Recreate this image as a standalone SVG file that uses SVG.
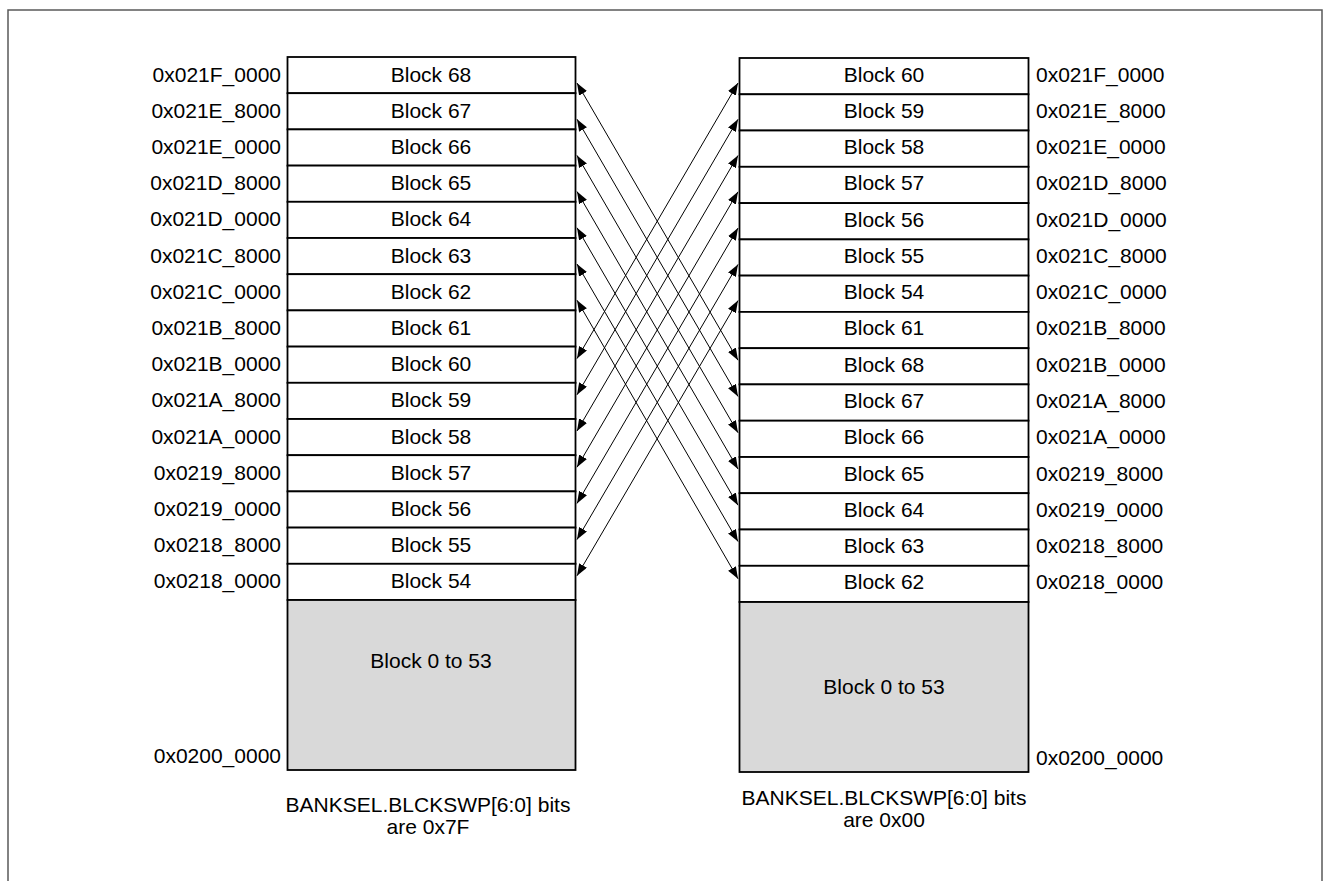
<svg xmlns="http://www.w3.org/2000/svg" width="1330" height="881" viewBox="0 0 1330 881">
<style>
  .row { fill: #ffffff; stroke: #000000; stroke-width: 1.8; }
  .gray { fill: #d9d9d9; stroke: #000000; stroke-width: 1.8; }
  .t { font-family: "Liberation Sans", Arial, sans-serif; font-size: 21px; fill: #000000; }
  .c { text-anchor: middle; }
  .e { text-anchor: end; }
  .s { text-anchor: start; }
  .conn { stroke: #000000; stroke-width: 1; fill: none; marker-start: url(#ah); marker-end: url(#ah); }
  .frame { stroke: #595959; stroke-width: 1.5; fill: none; }
</style>
<defs>
  <marker id="ah" markerUnits="userSpaceOnUse" markerWidth="13" markerHeight="10" refX="12" refY="4.5" orient="auto-start-reverse">
    <path d="M0,0 L12,4.5 L0,9 z" fill="#000000"/>
  </marker>
</defs>
<path class="frame" d="M8,881 V10 H1322 V881"/>

<g id="left-column">
  <g id="L68"><rect class="row" x="287.5" y="57" width="288" height="36.2"/><text class="t c" x="431" y="81.5">Block 68</text><text class="t e" x="281" y="81.5">0x021F_0000</text></g>
  <g id="L67"><rect class="row" x="287.5" y="93.2" width="288" height="36.2"/><text class="t c" x="431" y="117.7">Block 67</text><text class="t e" x="281" y="117.7">0x021E_8000</text></g>
  <g id="L66"><rect class="row" x="287.5" y="129.4" width="288" height="36.2"/><text class="t c" x="431" y="153.9">Block 66</text><text class="t e" x="281" y="153.9">0x021E_0000</text></g>
  <g id="L65"><rect class="row" x="287.5" y="165.6" width="288" height="36.2"/><text class="t c" x="431" y="190.1">Block 65</text><text class="t e" x="281" y="190.1">0x021D_8000</text></g>
  <g id="L64"><rect class="row" x="287.5" y="201.8" width="288" height="36.2"/><text class="t c" x="431" y="226.3">Block 64</text><text class="t e" x="281" y="226.3">0x021D_0000</text></g>
  <g id="L63"><rect class="row" x="287.5" y="238" width="288" height="36.2"/><text class="t c" x="431" y="262.5">Block 63</text><text class="t e" x="281" y="262.5">0x021C_8000</text></g>
  <g id="L62"><rect class="row" x="287.5" y="274.2" width="288" height="36.2"/><text class="t c" x="431" y="298.7">Block 62</text><text class="t e" x="281" y="298.7">0x021C_0000</text></g>
  <g id="L61"><rect class="row" x="287.5" y="310.4" width="288" height="36.2"/><text class="t c" x="431" y="334.9">Block 61</text><text class="t e" x="281" y="334.9">0x021B_8000</text></g>
  <g id="L60"><rect class="row" x="287.5" y="346.6" width="288" height="36.2"/><text class="t c" x="431" y="371.1">Block 60</text><text class="t e" x="281" y="371.1">0x021B_0000</text></g>
  <g id="L59"><rect class="row" x="287.5" y="382.8" width="288" height="36.2"/><text class="t c" x="431" y="407.3">Block 59</text><text class="t e" x="281" y="407.3">0x021A_8000</text></g>
  <g id="L58"><rect class="row" x="287.5" y="419" width="288" height="36.2"/><text class="t c" x="431" y="443.5">Block 58</text><text class="t e" x="281" y="443.5">0x021A_0000</text></g>
  <g id="L57"><rect class="row" x="287.5" y="455.2" width="288" height="36.2"/><text class="t c" x="431" y="479.7">Block 57</text><text class="t e" x="281" y="479.7">0x0219_8000</text></g>
  <g id="L56"><rect class="row" x="287.5" y="491.4" width="288" height="36.2"/><text class="t c" x="431" y="515.9">Block 56</text><text class="t e" x="281" y="515.9">0x0219_0000</text></g>
  <g id="L55"><rect class="row" x="287.5" y="527.6" width="288" height="36.2"/><text class="t c" x="431" y="552.1">Block 55</text><text class="t e" x="281" y="552.1">0x0218_8000</text></g>
  <g id="L54"><rect class="row" x="287.5" y="563.8" width="288" height="36.2"/><text class="t c" x="431" y="588.3">Block 54</text><text class="t e" x="281" y="588.3">0x0218_0000</text></g>
  <g id="L0-53"><rect class="gray" x="287.5" y="600" width="288" height="170"/><text class="t c" x="431" y="667.5">Block 0 to 53</text><text class="t e" x="281" y="763">0x0200_0000</text></g>
  <g id="L-caption"><text class="t c" x="428" y="812">BANKSEL.BLCKSWP[6:0] bits</text><text class="t c" x="428" y="833.5">are 0x7F</text></g>
</g>

<g id="right-column">
  <g id="R60"><rect class="row" x="739.5" y="58" width="289" height="36.3"/><text class="t c" x="884" y="81.5">Block 60</text><text class="t s" x="1036" y="81.5">0x021F_0000</text></g>
  <g id="R59"><rect class="row" x="739.5" y="94.3" width="289" height="36.2"/><text class="t c" x="884" y="117.8">Block 59</text><text class="t s" x="1036" y="117.8">0x021E_8000</text></g>
  <g id="R58"><rect class="row" x="739.5" y="130.5" width="289" height="36.3"/><text class="t c" x="884" y="154">Block 58</text><text class="t s" x="1036" y="154">0x021E_0000</text></g>
  <g id="R57"><rect class="row" x="739.5" y="166.8" width="289" height="36.3"/><text class="t c" x="884" y="190.3">Block 57</text><text class="t s" x="1036" y="190.3">0x021D_8000</text></g>
  <g id="R56"><rect class="row" x="739.5" y="203.1" width="289" height="36.3"/><text class="t c" x="884" y="226.6">Block 56</text><text class="t s" x="1036" y="226.6">0x021D_0000</text></g>
  <g id="R55"><rect class="row" x="739.5" y="239.4" width="289" height="36.2"/><text class="t c" x="884" y="262.9">Block 55</text><text class="t s" x="1036" y="262.9">0x021C_8000</text></g>
  <g id="R54"><rect class="row" x="739.5" y="275.6" width="289" height="36.3"/><text class="t c" x="884" y="299.1">Block 54</text><text class="t s" x="1036" y="299.1">0x021C_0000</text></g>
  <g id="R61"><rect class="row" x="739.5" y="311.9" width="289" height="36.3"/><text class="t c" x="884" y="335.4">Block 61</text><text class="t s" x="1036" y="335.4">0x021B_8000</text></g>
  <g id="R68"><rect class="row" x="739.5" y="348.2" width="289" height="36.2"/><text class="t c" x="884" y="371.7">Block 68</text><text class="t s" x="1036" y="371.7">0x021B_0000</text></g>
  <g id="R67"><rect class="row" x="739.5" y="384.4" width="289" height="36.3"/><text class="t c" x="884" y="407.9">Block 67</text><text class="t s" x="1036" y="407.9">0x021A_8000</text></g>
  <g id="R66"><rect class="row" x="739.5" y="420.7" width="289" height="36.3"/><text class="t c" x="884" y="444.2">Block 66</text><text class="t s" x="1036" y="444.2">0x021A_0000</text></g>
  <g id="R65"><rect class="row" x="739.5" y="457" width="289" height="36.2"/><text class="t c" x="884" y="480.5">Block 65</text><text class="t s" x="1036" y="480.5">0x0219_8000</text></g>
  <g id="R64"><rect class="row" x="739.5" y="493.2" width="289" height="36.3"/><text class="t c" x="884" y="516.7">Block 64</text><text class="t s" x="1036" y="516.7">0x0219_0000</text></g>
  <g id="R63"><rect class="row" x="739.5" y="529.5" width="289" height="36.3"/><text class="t c" x="884" y="553">Block 63</text><text class="t s" x="1036" y="553">0x0218_8000</text></g>
  <g id="R62"><rect class="row" x="739.5" y="565.8" width="289" height="36.2"/><text class="t c" x="884" y="589.3">Block 62</text><text class="t s" x="1036" y="589.3">0x0218_0000</text></g>
  <g id="R0-53"><rect class="gray" x="739.5" y="602" width="289" height="170"/><text class="t c" x="884" y="693.5">Block 0 to 53</text><text class="t s" x="1036" y="765">0x0200_0000</text></g>
  <g id="R-caption"><text class="t c" x="884" y="805">BANKSEL.BLCKSWP[6:0] bits</text><text class="t c" x="884" y="826.5">are 0x00</text></g>
</g>

<g id="connectors">
  <line class="conn" x1="577" y1="83" x2="738" y2="360.2"/>
  <line class="conn" x1="577" y1="119.2" x2="738" y2="396.4"/>
  <line class="conn" x1="577" y1="155.4" x2="738" y2="432.7"/>
  <line class="conn" x1="577" y1="191.6" x2="738" y2="469"/>
  <line class="conn" x1="577" y1="227.8" x2="738" y2="505.2"/>
  <line class="conn" x1="577" y1="264" x2="738" y2="541.5"/>
  <line class="conn" x1="577" y1="300.2" x2="738" y2="578.8"/>
  <line class="conn" x1="577" y1="358.6" x2="738" y2="83"/>
  <line class="conn" x1="577" y1="394.8" x2="738" y2="119.3"/>
  <line class="conn" x1="577" y1="431" x2="738" y2="155.5"/>
  <line class="conn" x1="577" y1="467.2" x2="738" y2="191.8"/>
  <line class="conn" x1="577" y1="503.4" x2="738" y2="228.1"/>
  <line class="conn" x1="577" y1="539.6" x2="738" y2="264.4"/>
  <line class="conn" x1="577" y1="575.8" x2="738" y2="300.6"/>
</g>
</svg>
